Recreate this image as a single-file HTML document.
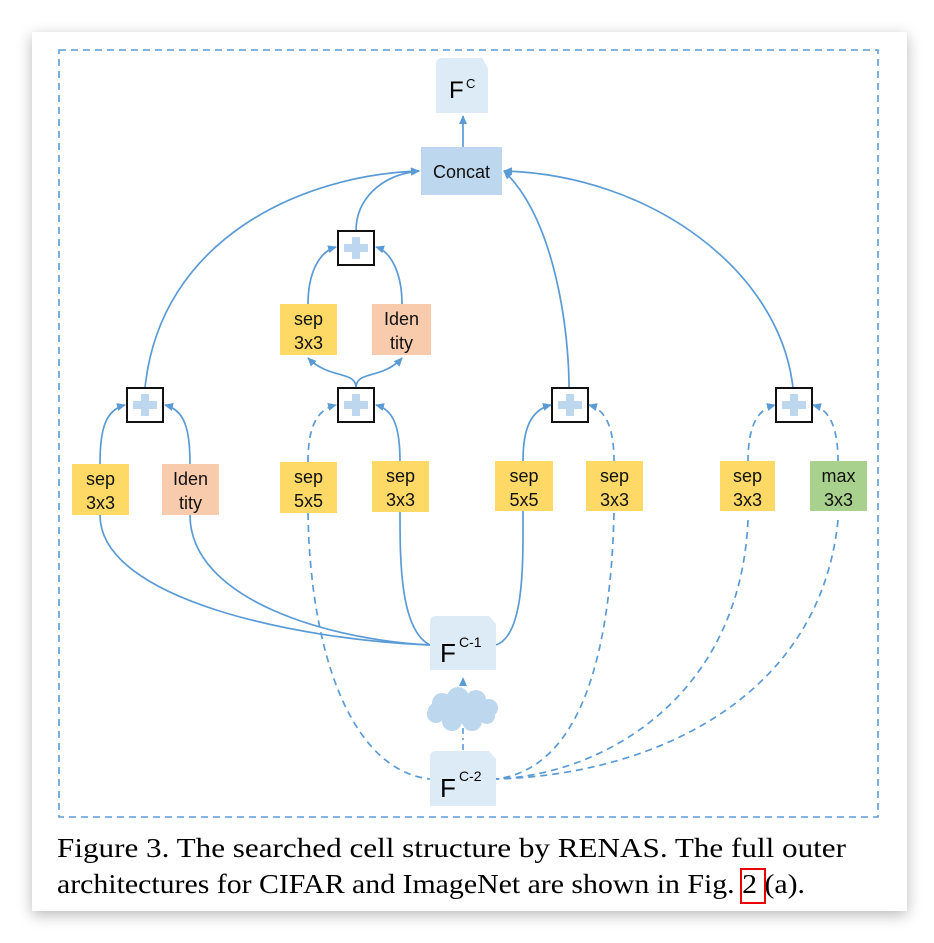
<!DOCTYPE html>
<html><head><meta charset="utf-8"><style>
html,body{margin:0;padding:0;background:#fff;}
body{width:934px;height:943px;overflow:hidden;position:relative;}
.card{position:absolute;left:32px;top:32px;width:875px;height:879px;background:#fff;box-shadow:0 4px 14px rgba(0,0,0,0.28);}
svg{position:absolute;left:0;top:0;}
.lbl{font-family:"Liberation Sans",sans-serif;font-size:18px;fill:#111;text-anchor:middle;}
.cap{font-family:"Liberation Serif",serif;font-size:27px;fill:#000;}
</style></head><body>
<div class="card"></div>
<svg width="934" height="943" viewBox="0 0 934 943">
<defs>
<marker id="a" markerWidth="10" markerHeight="10" refX="8" refY="4" orient="auto" markerUnits="userSpaceOnUse">
<path d="M0,0 L9,4 L0,8 Z" fill="#5b9bd5"/></marker>
<g id="plus"><rect x="0" y="0" width="36" height="34" fill="#fff" stroke="#111" stroke-width="2"/>
<rect x="14" y="6" width="8" height="22" fill="#bdd7ee"/><rect x="6" y="13" width="24" height="8" fill="#bdd7ee"/></g>
</defs>
<rect x="59" y="50" width="819" height="767" fill="none" stroke="#5b9bd5" stroke-width="1.6" stroke-dasharray="7,5"/>
<g fill="none" stroke="#5b9bd5" stroke-width="1.7">
<path d="M463,147 L463,116" marker-end="url(#a)"/>
<path d="M145,388 C160,240 300,175 419,171" marker-end="url(#a)"/>
<path d="M356,231 C356,200 380,175 419,171" marker-end="url(#a)"/>
<path d="M569,388 C569,330 555,220 504,171" marker-end="url(#a)"/>
<path d="M793,388 C780,270 650,175 504,171" marker-end="url(#a)"/>
<path d="M308,304 C308,275 318,252 336,247" marker-end="url(#a)"/>
<path d="M402,304 C402,275 392,252 376,247" marker-end="url(#a)"/>
<path d="M356,388 C356,370 330,380 308,358" marker-end="url(#a)"/>
<path d="M356,388 C356,370 382,380 402,358" marker-end="url(#a)"/>
<path d="M100,464 C100,430 105,410 125,405" marker-end="url(#a)"/>
<path d="M190,464 C190,430 185,410 165,405" marker-end="url(#a)"/>
<path d="M400,462 C400,430 395,410 376,405" marker-end="url(#a)"/>
<path d="M523,461 C523,430 530,410 551,405" marker-end="url(#a)"/>
<path d="M100,515 C100,600 300,640 430,645"/>
<path d="M190,515 C190,600 330,640 430,645"/>
<path d="M400,512 C400,560 400,630 430,645"/>
<path d="M523,511 C523,560 525,635 496,645"/>
</g>
<g fill="none" stroke="#5b9bd5" stroke-width="1.7" stroke-dasharray="7,5">
<path d="M308,462 C308,430 315,410 336,405" marker-end="url(#a)"/>
<path d="M614,462 C614,430 607,410 589,405" marker-end="url(#a)"/>
<path d="M748,462 C748,430 755,410 775,405" marker-end="url(#a)"/>
<path d="M838,462 C838,430 831,410 813,405" marker-end="url(#a)"/>
<path d="M308,513 C310,650 350,770 430,779"/>
<path d="M614,513 C610,680 570,770 496,779"/>
<path d="M748,520 C740,700 600,775 496,779"/>
<path d="M838,520 C820,700 650,775 496,779"/>
</g>
<path d="M463,750 L463,678" stroke="#5b9bd5" stroke-width="1.6" stroke-dasharray="6,4,2,4" fill="none" marker-end="url(#a)"/>
<g fill="#bdd7ee">
<ellipse cx="462" cy="710" rx="34" ry="13"/>
<circle cx="442" cy="703" r="10"/><circle cx="458" cy="698" r="11"/><circle cx="476" cy="700" r="10"/><circle cx="489" cy="708" r="9"/>
<circle cx="436" cy="714" r="9"/><circle cx="452" cy="721" r="10"/><circle cx="472" cy="721" r="10"/><circle cx="487" cy="716" r="8"/>
</g>
<path d="M442,58 L482,58 L488,68 L488,113 L436,113 L436,64 Q436,58 442,58Z" fill="#ddebf7"/>
<text x="449" y="98" style="font-family:'Liberation Sans',sans-serif;font-size:24px">F</text>
<text x="466" y="88" style="font-family:'Liberation Sans',sans-serif;font-size:13px">C</text>
<rect x="421" y="147" width="81" height="48" fill="#bdd7ee"/>
<text x="461.5" y="178" class="lbl">Concat</text>
<path d="M436,616 L489,616 L496,624 L496,670 L430,670 L430,622 Q430,616 436,616Z" fill="#ddebf7"/>
<text x="440" y="662" style="font-family:'Liberation Sans',sans-serif;font-size:26px">F</text>
<text x="459" y="647" style="font-family:'Liberation Sans',sans-serif;font-size:14px">C-1</text>
<path d="M436,751 L489,751 L496,759 L496,806 L430,806 L430,757 Q430,751 436,751Z" fill="#ddebf7"/>
<text x="440" y="797" style="font-family:'Liberation Sans',sans-serif;font-size:26px">F</text>
<text x="459" y="781" style="font-family:'Liberation Sans',sans-serif;font-size:14px">C-2</text>
<use href="#plus" x="338" y="231"/>
<use href="#plus" x="127" y="388"/>
<use href="#plus" x="338" y="388"/>
<use href="#plus" x="552" y="388"/>
<use href="#plus" x="776" y="388"/>
<g>
<rect x="280" y="304" width="57" height="51" fill="#ffd966"/><text class="lbl" x="308.5" y="325">sep</text><text class="lbl" x="308.5" y="349">3x3</text>
<rect x="372" y="304" width="59" height="51" fill="#f8cbad"/><text class="lbl" x="401.5" y="325">Iden</text><text class="lbl" x="401.5" y="349">tity</text>
<rect x="72" y="464" width="57" height="51" fill="#ffd966"/><text class="lbl" x="100.5" y="485">sep</text><text class="lbl" x="100.5" y="509">3x3</text>
<rect x="162" y="464" width="57" height="51" fill="#f8cbad"/><text class="lbl" x="190.5" y="485">Iden</text><text class="lbl" x="190.5" y="509">tity</text>
<rect x="280" y="462" width="57" height="51" fill="#ffd966"/><text class="lbl" x="308.5" y="483">sep</text><text class="lbl" x="308.5" y="507">5x5</text>
<rect x="372" y="461" width="57" height="51" fill="#ffd966"/><text class="lbl" x="400.5" y="482">sep</text><text class="lbl" x="400.5" y="506">3x3</text>
<rect x="495" y="461" width="58" height="50" fill="#ffd966"/><text class="lbl" x="524" y="482">sep</text><text class="lbl" x="524" y="506">5x5</text>
<rect x="586" y="461" width="57" height="50" fill="#ffd966"/><text class="lbl" x="614.5" y="482">sep</text><text class="lbl" x="614.5" y="506">3x3</text>
<rect x="720" y="461" width="55" height="50" fill="#ffd966"/><text class="lbl" x="747.5" y="482">sep</text><text class="lbl" x="747.5" y="506">3x3</text>
<rect x="810" y="461" width="57" height="50" fill="#a9d18e"/><text class="lbl" x="838.5" y="482">max</text><text class="lbl" x="838.5" y="506">3x3</text>
</g>
<text class="cap" x="57" y="857" textLength="789" lengthAdjust="spacingAndGlyphs">Figure 3. The searched cell structure by RENAS. The full outer</text>
<text class="cap" x="57" y="893" textLength="748" lengthAdjust="spacingAndGlyphs">architectures for CIFAR and ImageNet are shown in Fig. 2 (a).</text>
<rect x="741" y="869" width="24" height="34" fill="none" stroke="#e00" stroke-width="2"/>
</svg>
</body></html>
